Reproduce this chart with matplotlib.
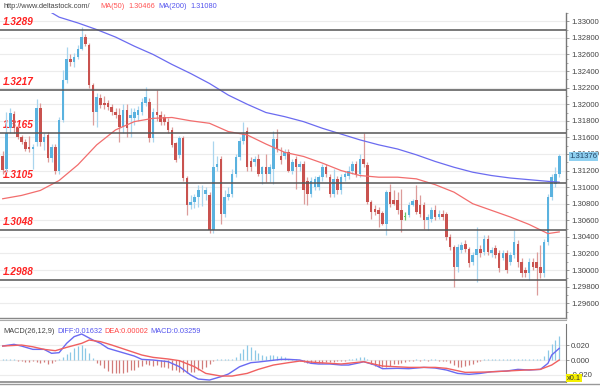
import matplotlib
matplotlib.use("Agg")
import matplotlib.pyplot as plt
import numpy as np

plt.rcParams['font.family'] = ['Liberation Sans', 'DejaVu Sans']

# ---------------- data ----------------
opens = [1.3137,1.3122,1.3171,1.3188,1.3171,1.3161,1.3155,1.3148,1.3146,1.3155,
         1.3195,1.3154,1.3163,1.3135,1.3149,1.3119,1.3181,1.3229,1.3255,1.3251,
         1.3257,1.3267,1.3281,1.3271,1.3223,1.3191,1.3207,1.3202,1.3201,1.3197,
         1.3191,1.3187,1.3173,1.3193,1.3183,1.3183,1.3187,1.3191,1.3202,1.3203,
         1.3159,1.3191,1.3187,1.3185,1.3179,1.3169,1.3153,1.3139,1.3159,1.3111,
         1.3078,1.3082,1.3088,1.3096,1.3092,1.3090,1.3048,1.3124,1.3134,1.3068,
         1.3088,1.3092,1.3116,1.3136,1.3156,1.3168,1.3132,1.3130,1.3134,1.3116,
         1.3124,1.3116,1.3122,1.3158,1.3138,1.3138,1.3142,1.3120,1.3134,1.3124,
         1.3128,1.3108,1.3092,1.3100,1.3100,1.3112,1.3124,1.3112,1.3092,1.3110,
         1.3096,1.3112,1.3114,1.3120,1.3128,1.3116,1.3134,1.3127,1.3082,1.3074,
         1.3073,1.3069,1.3056,1.3094,1.3085,1.3084,1.3072,1.3064,1.3066,1.3079,
         1.3084,1.3078,1.3078,1.3060,1.3062,1.3072,1.3064,1.3068,1.3068,1.3040,
         1.3028,1.3004,1.3024,1.3032,1.3026,1.3010,1.3018,1.3026,1.3022,1.3038,
         1.3020,1.3027,1.3020,1.3015,1.3020,1.3010,1.3018,1.3032,1.3010,1.3000,
         1.2996,1.3010,1.3010,1.3004,1.2996,1.3034,1.3088,1.3104,1.3116]
highs = [1.3143,1.3191,1.3195,1.3192,1.3175,1.3163,1.3158,1.3162,1.3152,1.3206,
         1.3202,1.3165,1.3166,1.3152,1.3152,1.3185,1.3241,1.3269,1.3260,1.3262,
         1.3272,1.3293,1.3285,1.3274,1.3226,1.3214,1.3212,1.3210,1.3205,1.3200,
         1.3195,1.3195,1.3200,1.3200,1.3195,1.3195,1.3198,1.3207,1.3221,1.3207,
         1.3195,1.3217,1.3192,1.3188,1.3183,1.3172,1.3155,1.3162,1.3162,1.3114,
         1.3090,1.3092,1.3102,1.3102,1.3100,1.3094,1.3156,1.3138,1.3138,1.3096,
         1.3100,1.3122,1.3140,1.3160,1.3178,1.3172,1.3136,1.3138,1.3140,1.3126,
         1.3140,1.3128,1.3168,1.3170,1.3148,1.3146,1.3146,1.3134,1.3138,1.3132,
         1.3132,1.3112,1.3112,1.3114,1.3115,1.3128,1.3128,1.3116,1.3122,1.3114,
         1.3116,1.3120,1.3126,1.3132,1.3132,1.3140,1.3165,1.3130,1.3084,1.3078,
         1.3076,1.3071,1.3096,1.3104,1.3096,1.3094,1.3098,1.3070,1.3082,1.3086,
         1.3102,1.3090,1.3082,1.3068,1.3076,1.3078,1.3072,1.3072,1.3070,1.3044,
         1.3030,1.3032,1.3034,1.3036,1.3028,1.3022,1.3052,1.3030,1.3042,1.3042,
         1.3028,1.3030,1.3024,1.3024,1.3024,1.3022,1.3048,1.3036,1.3014,1.3004,
         1.3014,1.3014,1.3022,1.3030,1.3038,1.3092,1.3116,1.3124,1.3140]
lows = [1.3116,1.3118,1.3165,1.3165,1.3158,1.3152,1.3144,1.3142,1.3122,1.3150,
        1.3150,1.3145,1.3130,1.3130,1.3116,1.3116,1.3178,1.3225,1.3246,1.3245,
        1.3255,1.3265,1.3270,1.3220,1.3175,1.3173,1.3195,1.3194,1.3193,1.3187,
        1.3183,1.3155,1.3165,1.3160,1.3160,1.3175,1.3180,1.3187,1.3198,1.3155,
        1.3155,1.3180,1.3175,1.3175,1.3165,1.3148,1.3130,1.3135,1.3108,1.3067,
        1.3074,1.3075,1.3076,1.3077,1.3084,1.3045,1.3045,1.3120,1.3056,1.3064,
        1.3084,1.3088,1.3112,1.3133,1.3152,1.3120,1.3120,1.3126,1.3114,1.3104,
        1.3106,1.3106,1.3104,1.3142,1.3128,1.3134,1.3118,1.3116,1.3098,1.3120,
        1.3080,1.3078,1.3088,1.3096,1.3096,1.3108,1.3112,1.3088,1.3088,1.3092,
        1.3092,1.3108,1.3110,1.3116,1.3112,1.3112,1.3124,1.3080,1.3062,1.3066,
        1.3052,1.3054,1.3042,1.3076,1.3078,1.3068,1.3046,1.3060,1.3064,1.3077,
        1.3068,1.3064,1.3050,1.3048,1.3058,1.3060,1.3062,1.3060,1.3036,1.3024,
        1.2980,1.2998,1.3020,1.3022,1.3004,1.3006,1.2986,1.3016,1.3018,1.3018,
        1.3016,1.3014,1.2998,1.3012,1.2996,1.3006,1.3014,1.3004,1.2992,1.2992,
        1.2988,1.3000,1.2970,1.2990,1.2992,1.3030,1.3084,1.3100,1.3112]
closes = [1.3121,1.3165,1.3190,1.3171,1.3161,1.3155,1.3146,1.3146,1.3148,1.3195,
          1.3155,1.3161,1.3135,1.3149,1.3119,1.3181,1.3229,1.3255,1.3251,1.3257,
          1.3267,1.3281,1.3273,1.3223,1.3191,1.3209,1.3199,1.3199,1.3197,1.3191,
          1.3187,1.3173,1.3193,1.3171,1.3187,1.3191,1.3193,1.3203,1.3209,1.3159,
          1.3191,1.3187,1.3179,1.3179,1.3169,1.3151,1.3133,1.3159,1.3111,1.3079,
          1.3082,1.3088,1.3096,1.3097,1.3096,1.3048,1.3124,1.3128,1.3068,1.3088,
          1.3092,1.3116,1.3136,1.3156,1.3164,1.3124,1.3124,1.3134,1.3116,1.3124,
          1.3116,1.3124,1.3158,1.3146,1.3133,1.3142,1.3120,1.3130,1.3124,1.3128,
          1.3096,1.3092,1.3108,1.3110,1.3112,1.3124,1.3116,1.3092,1.3110,1.3096,
          1.3112,1.3116,1.3120,1.3128,1.3116,1.3134,1.3128,1.3082,1.3070,1.3070,
          1.3068,1.3056,1.3094,1.3080,1.3080,1.3072,1.3060,1.3064,1.3079,1.3083,
          1.3070,1.3068,1.3060,1.3064,1.3072,1.3064,1.3068,1.3064,1.3040,1.3028,
          1.3004,1.3028,1.3030,1.3026,1.3008,1.3018,1.3026,1.3020,1.3038,1.3022,
          1.3024,1.3018,1.3002,1.3020,1.3000,1.3018,1.3034,1.3010,1.2996,1.2996,
          1.3010,1.3004,1.3002,1.2996,1.3034,1.3088,1.3112,1.3116,1.3137]

ma50_idx = [0,5,10,15,20,25,30,35,40,45,50,55,60,65,70,75,80,85,90,95,
            100,105,110,115,120,125,130,135,140,145,148]
ma50_val = [1.3086,1.3090,1.3096,1.3108,1.3127,1.3151,1.3169,1.3179,1.3183,1.3184,
            1.3180,1.3177,1.3167,1.3163,1.3152,1.3142,1.3137,1.3129,1.3120,1.3114,
            1.3112,1.3112,1.3110,1.3103,1.3094,1.3080,1.3072,1.3064,1.3055,1.3044,1.3046]
ma200_idx = [12,15,20,25,30,35,40,45,50,55,60,65,70,75,80,85,90,95,
             100,105,110,115,120,125,130,135,140,145,148]
ma200_val = [1.3313,1.3305,1.3298,1.3290,1.3281,1.3270,1.3260,1.3248,1.3237,1.3225,
             1.3211,1.3200,1.3190,1.3185,1.3179,1.3171,1.3164,1.3157,1.3151,1.3146,
             1.3139,1.3131,1.3124,1.3118,1.3114,1.3111,1.3109,1.3107,1.3106]

levels = [1.3289, 1.3217, 1.3165, 1.3105, 1.3048, 1.2988]
level_labels = ["1.3289", "1.3217", "1.3165", "1.3105", "1.3048", "1.2988"]

diff_idx = [0,3,5,8,11,13,15,17,19,21,24,26,28,31,35,37,40,44,47,50,
            52,55,58,60,63,66,68,71,74,76,79,82,84,87,90,92,95,96,99,101,
            105,108,112,115,118,121,124,127,130,134,137,140,143,145,146,148]
diff_val = [0.0191,0.0213,0.0190,0.0145,0.0145,0.0091,0.0100,0.0227,0.0318,0.0354,
            0.0272,0.0227,0.0159,0.0114,0.0054,0.0009,0.0000,-0.0023,-0.0091,-0.0204,
            -0.0259,-0.0272,-0.0227,-0.0191,-0.0091,-0.0036,-0.0027,-0.0009,0.0009,0.0009,
            0.0000,-0.0045,-0.0054,-0.0054,-0.0068,-0.0068,-0.0036,-0.0023,-0.0068,-0.0118,
            -0.0113,-0.0118,-0.0100,-0.0109,-0.0136,-0.0182,-0.0195,-0.0182,-0.0159,-0.0150,
            -0.0127,-0.0136,-0.0127,-0.0045,0.0068,0.0159]
dea_idx = [0,5,8,11,14,17,21,23,26,29,33,37,40,44,47,51,54,58,61,65,
           68,72,76,79,84,90,96,101,108,115,118,123,129,134,139,143,146,148]
dea_val = [0.0190,0.0204,0.0180,0.0145,0.0127,0.0172,0.0227,0.0272,0.0250,0.0204,
           0.0136,0.0068,0.0036,0.0014,-0.0009,-0.0091,-0.0182,-0.0218,-0.0218,-0.0182,
           -0.0127,-0.0068,-0.0036,-0.0014,-0.0036,-0.0054,-0.0023,-0.0082,-0.0100,-0.0100,
           -0.0113,-0.0168,-0.0163,-0.0150,-0.0136,-0.0127,-0.0068,0.0000]
macd_hist = [0.001,0.002,0.002,0.001,-0.001,-0.002,-0.003,-0.003,-0.002,-0.003,
             -0.004,-0.003,-0.005,-0.004,-0.002,0.001,0.004,0.008,0.011,0.016,
             0.019,0.020,0.017,0.010,0.003,-0.004,-0.007,-0.011,-0.015,-0.017,
             -0.018,-0.017,-0.018,-0.016,-0.014,-0.013,-0.010,-0.008,-0.006,-0.007,
             -0.008,-0.007,-0.009,-0.010,-0.011,-0.013,-0.014,-0.016,-0.016,-0.017,
             -0.016,-0.016,-0.014,-0.012,-0.009,-0.005,-0.002,0.001,0.001,0.002,
             0.002,0.001,0.004,0.010,0.015,0.020,0.018,0.014,0.009,0.007,
             0.005,0.007,0.007,0.006,0.005,0.004,0.002,0.002,0.001,-0.001,
             -0.003,-0.004,-0.004,-0.004,-0.004,-0.004,-0.003,-0.003,-0.003,-0.002,
             -0.002,-0.001,0.001,0.002,0.003,0.004,0.004,0.002,-0.006,-0.008,
             -0.010,-0.010,-0.009,-0.008,-0.006,-0.005,-0.004,-0.003,-0.002,-0.001,
             0.001,-0.001,0.001,-0.001,0.001,0.001,-0.001,-0.001,-0.002,-0.004,
             -0.007,-0.009,-0.009,-0.008,-0.007,-0.005,-0.003,-0.001,0.001,0.002,
             0.001,0.002,0.001,0.002,0.002,0.001,0.002,0.002,0.001,0.002,
             0.001,0.002,0.001,0.002,0.005,0.014,0.022,0.027,0.033]

price_ticks = [1.296,1.298,1.300,1.302,1.304,1.306,1.308,1.310,1.312,1.314,
               1.316,1.318,1.320,1.322,1.324,1.326,1.328,1.330]
macd_ticks = [-0.02, 0.0, 0.02]
last_price = "1.31376"

# ---------------- figure ----------------
W, H = 600, 390
fig = plt.figure(figsize=(W/100, H/100), dpi=100)
fig.patch.set_facecolor("white")

def rect(x0, y0, x1, y1):
    return [x0/W, 1 - y1/H, (x1-x0)/W, (y1-y0)/H]

ax = fig.add_axes(rect(0, 13, 566, 318))
axm = fig.add_axes(rect(0, 324, 566, 382))

BLUE = "#5ab2df"
BLUE_W = "#a9d5ee"
RED = "#c9524f"
RED_W = "#dc9c9a"
GREEN = "#66c466"

n = len(closes)
idx = np.arange(n)
o = np.array(opens); c = np.array(closes); hi = np.array(highs); lo = np.array(lows)
up = c > o
dn = c < o
wcol = np.where(up, BLUE_W, np.where(dn, RED_W, GREEN))
bcol = np.where(up, BLUE, np.where(dn, RED, GREEN))

# grid
for t in price_ticks:
    ax.axhline(t, color="#ececec", lw=0.8, zorder=0)

ax.vlines(idx, lo, hi, colors=wcol, lw=0.9, zorder=2)
bottom = np.minimum(o, c)
height = np.maximum(np.abs(c - o), 0.00008)
ax.bar(idx, height, bottom=bottom, width=0.68, color=bcol, linewidth=0, zorder=3)

ax.plot(ma50_idx, ma50_val, color="#f26d6d", lw=0.9, zorder=4)
ax.plot(ma200_idx, ma200_val, color="#6b6bf0", lw=0.9, zorder=4)

for lv, lab in zip(levels, level_labels):
    ax.axhline(lv, color="#555555", lw=1.1, zorder=5)
    ax.annotate(lab, xy=(0, lv), xycoords=("axes fraction", "data"),
                xytext=(2, 2.5), textcoords="offset points",
                color="#ff2222", fontsize=7.2, fontweight="bold", fontstyle="italic",
                ha="left", va="bottom", zorder=1)

ax.set_xlim(-0.72, 149.8)
ax.set_ylim(1.29422, 1.33093)
ax.set_xticks([])
ax.yaxis.tick_right()
ax.set_yticks(price_ticks)
ax.set_yticklabels([f"{t:.5f}" for t in price_ticks])
ax.set_yticks(np.arange(1.295, 1.3315, 0.002), minor=True)
ax.tick_params(axis="y", which="major", direction="out", length=2.5, width=0.6,
               colors="#888888", labelcolor="#444444", labelsize=5.6, pad=1.0)
ax.tick_params(axis="y", which="minor", direction="out", length=1.5, width=0.5, colors="#888888")
for s in ["top", "left"]:
    ax.spines[s].set_visible(False)
ax.spines["right"].set_color("#777777")
ax.spines["right"].set_linewidth(1.0)
ax.spines["bottom"].set_color("#888888")
ax.spines["bottom"].set_linewidth(1.0)

# last price tag
ax.annotate(last_price, xy=(1.0, float(closes[-1])), xycoords=("axes fraction", "data"),
            xytext=(2.5, 0), textcoords="offset points", fontsize=5.6, color="#224466",
            va="center", ha="left",
            bbox=dict(boxstyle="square,pad=0.12", fc="#8fd0f0", ec="none"),
            annotation_clip=False, zorder=10)

# header
hy = 1 - 7/H
fig.text(3/W, hy, "http://www.deltastock.com/", fontsize=5.3, color="#444444", va="center")
fig.text(100/W, hy, "MA(50)", fontsize=5.3, color="#ff5555", va="center")
fig.text(128/W, hy, "1.30466", fontsize=5.3, color="#ff5555", va="center")
fig.text(158/W, hy, "MA(200)", fontsize=5.3, color="#5555ee", va="center")
fig.text(190/W, hy, "1.31080", fontsize=5.3, color="#5555ee", va="center")

# ---------------- MACD ----------------
hist = np.array(macd_hist)
hcol = np.where(hist >= 0, "#8cc8e6", "#d27c7a")
axm.vlines(idx, 0, hist, colors=hcol, lw=0.9, zorder=2)
axm.plot(diff_idx, diff_val, color="#6a6af2", lw=1.0, zorder=3)
axm.plot(dea_idx, dea_val, color="#f06060", lw=1.0, zorder=3)
for t in macd_ticks:
    axm.axhline(t, color="#ececec", lw=0.8, zorder=0)
axm.set_xlim(-0.72, 149.8)
axm.set_ylim(-0.0299, 0.049)
axm.set_xticks([])
axm.yaxis.tick_right()
axm.set_yticks(macd_ticks)
axm.set_yticklabels(["-0.020", "0.000", "0.020"])
axm.tick_params(axis="y", direction="out", length=2.5, width=0.6, colors="#888888",
                labelcolor="#444444", labelsize=5.6, pad=1.0)
for s in ["top", "left"]:
    axm.spines[s].set_visible(False)
axm.spines["right"].set_color("#777777")
axm.spines["bottom"].set_color("#888888")
axm.spines["bottom"].set_linewidth(1.2)

my = 0.93
axm.text(3/566, my, "MACD(26,12,9)", transform=axm.transAxes, fontsize=5.3,
         color="#444444", va="top")
axm.text(57/566, my, "DIFF:0.01632", transform=axm.transAxes, fontsize=5.3,
         color="#5555ee", va="top")
axm.text(104/566, my, "DEA:0.00002", transform=axm.transAxes, fontsize=5.3,
         color="#ff4444", va="top")
axm.text(150/566, my, "MACD:0.03259", transform=axm.transAxes, fontsize=5.3,
         color="#5555ee", va="top")
fig.text(567/W, 1 - 378/H, "x0.1", fontsize=5.3, color="#333333", va="center", ha="left",
         bbox=dict(boxstyle="square,pad=0.1", fc="#f5f000", ec="none"))

# separators
fig.add_artist(plt.Line2D([0, 566/W], [1 - 320/H, 1 - 320/H], color="#aaaaaa", lw=0.8))
fig.add_artist(plt.Line2D([0, 1], [1 - 384/H, 1 - 384/H], color="#999999", lw=1.0))

fig.savefig("out.png", dpi=100)
